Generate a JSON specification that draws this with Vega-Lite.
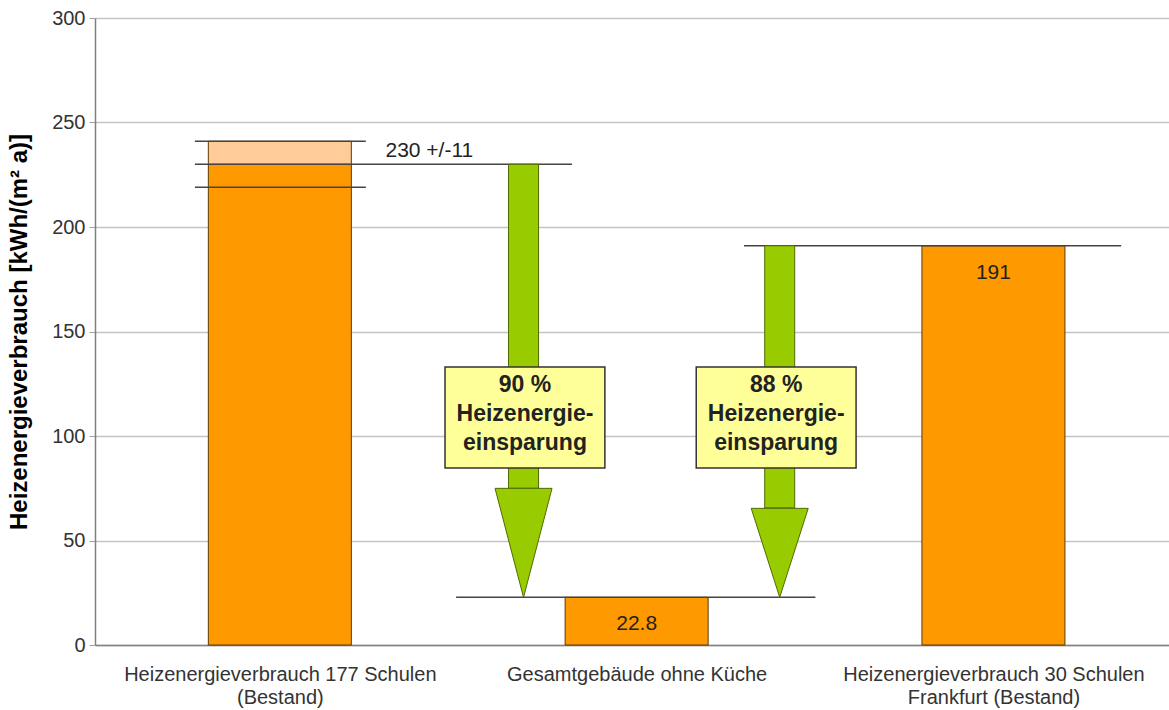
{
  "$schema": "https://vega.github.io/schema/vega-lite/v6.json",
  "autosize": {"type": "none"},
  "width": 1074,
  "height": 627,
  "padding": {"left": 95, "top": 18, "right": 0, "bottom": 65},
  "background": "white",
  "config": {
    "font": "Liberation Sans",
    "view": {"stroke": null}
  },
  "datasets": {
    "bars": [
      {"cat": "Heizenergieverbrauch 177 Schulen (Bestand)", "pos": 0.5, "value": 230},
      {"cat": "Gesamtgebäude ohne Küche", "pos": 1.5, "value": 22.8},
      {"cat": "Heizenergieverbrauch 30 Schulen Frankfurt (Bestand)", "pos": 2.5, "value": 191}
    ],
    "error": [{"pos": 0.5, "lo": 219, "hi": 241, "value": 230}],
    "refs": [
      {"from": 0.262, "to": 0.741, "y": 241},
      {"from": 0.262, "to": 0.741, "y": 219},
      {"from": 0.262, "to": 1.319, "y": 230},
      {"from": 0.994, "to": 2.001, "y": 22.8},
      {"from": 1.801, "to": 2.858, "y": 191}
    ],
    "arrows": [
      {"arrow": "90 %", "pos": 1.183, "from": 230, "headTop": 75, "to": 22.8},
      {"arrow": "88 %", "pos": 1.901, "from": 191, "headTop": 65.6, "to": 22.8}
    ],
    "boxes": [
      {"box": "90 %", "x1": 0.963, "x2": 1.411, "top": 133, "bottom": 84.7, "mid": 1.187, "ty": 124.4, "text": "90 %\nHeizenergie-\neinsparung"},
      {"box": "88 %", "x1": 1.667, "x2": 2.115, "top": 133, "bottom": 84.7, "mid": 1.891, "ty": 124.4, "text": "88 %\nHeizenergie-\neinsparung"}
    ],
    "notes": [{"pos": 0.796, "y": 230, "text": "230 +/-11"}]
  },
  "layer": [
    {
      "data": {"name": "bars"},
      "mark": {"type": "bar", "width": 143, "fill": "#FF9900", "stroke": "#5c3b00", "strokeWidth": 1},
      "encoding": {
        "x": {
          "field": "pos", "type": "quantitative",
          "scale": {"domain": [-0.004, 2.978], "nice": false, "zero": false},
          "axis": {
            "title": null,
            "values": [0.5, 1.5, 2.5],
            "labelExpr": "datum.value < 1 ? ['Heizenergieverbrauch 177 Schulen', '(Bestand)'] : datum.value < 2 ? ['Gesamtgebäude ohne Küche'] : ['Heizenergieverbrauch 30 Schulen', 'Frankfurt (Bestand)']",
            "labelFontSize": 20,
            "labelColor": "#333333",
            "labelLineHeight": 23,
            "labelPadding": 19,
            "labelLimit": 600,
            "ticks": false,
            "grid": false,
            "domainColor": "#808080",
            "domainWidth": 1.5,
            "labelFlush": false,
            "labelOverlap": false
          }
        },
        "y": {
          "field": "value", "type": "quantitative",
          "scale": {"domain": [0, 300], "nice": false},
          "axis": {
            "title": "Heizenergieverbrauch [kWh/(m² a)]",
            "titleFontSize": 24,
            "titleFontWeight": "bold",
            "titleColor": "#000000",
            "titlePadding": 20,
            "values": [0, 50, 100, 150, 200, 250, 300],
            "labelFontSize": 20,
            "labelColor": "#333333",
            "labelPadding": 4,
            "tickSize": 6,
            "tickColor": "#a0a0a0",
            "grid": true,
            "gridColor": "#c4c4c4",
            "gridWidth": 1.5,
            "domainColor": "#808080",
            "domainWidth": 1.5
          }
        }
      }
    },
    {
      "data": {"name": "error"},
      "mark": {"type": "bar", "width": 143, "fill": "#FFCC99", "stroke": "#5c3b00", "strokeWidth": 1},
      "encoding": {
        "x": {"field": "pos", "type": "quantitative"},
        "y": {"field": "value", "type": "quantitative"},
        "y2": {"field": "hi"}
      }
    },
    {
      "data": {"name": "refs"},
      "mark": {"type": "rule", "color": "#444444", "strokeWidth": 1.5},
      "encoding": {
        "x": {"field": "from", "type": "quantitative"},
        "x2": {"field": "to"},
        "y": {"field": "y", "type": "quantitative"}
      }
    },
    {
      "data": {"name": "arrows"},
      "mark": {"type": "bar", "width": 30, "fill": "#99CC00", "stroke": "#4f6b00", "strokeWidth": 1},
      "encoding": {
        "x": {"field": "pos", "type": "quantitative"},
        "y": {"field": "from", "type": "quantitative"},
        "y2": {"field": "headTop"}
      }
    },
    {
      "data": {"name": "arrows"},
      "mark": {"type": "point", "filled": true, "size": 10000, "fill": "#99CC00", "stroke": "#4f6b00", "strokeWidth": 1, "opacity": 1},
      "encoding": {
        "x": {"field": "pos", "type": "quantitative"},
        "y": {"field": "to", "type": "quantitative"},
        "shape": {
          "field": "arrow", "type": "nominal", "legend": null,
          "scale": {"domain": ["90 %", "88 %"], "range": ["M-0.57,-2.18L0.57,-2.18L0,0Z", "M-0.57,-1.78L0.57,-1.78L0,0Z"]}
        }
      }
    },
    {
      "data": {"name": "boxes"},
      "mark": {"type": "rect", "fill": "#FFFF99", "stroke": "#333333", "strokeWidth": 1.5},
      "encoding": {
        "x": {"field": "x1", "type": "quantitative"},
        "x2": {"field": "x2"},
        "y": {"field": "top", "type": "quantitative"},
        "y2": {"field": "bottom"}
      }
    },
    {
      "data": {"name": "boxes"},
      "mark": {"type": "text", "fontSize": 23, "fontWeight": "bold", "lineBreak": "\n", "lineHeight": 29, "align": "center", "baseline": "middle", "color": "#222222"},
      "encoding": {
        "x": {"field": "mid", "type": "quantitative"},
        "y": {"field": "ty", "type": "quantitative"},
        "text": {"field": "text"}
      }
    },
    {
      "data": {"name": "notes"},
      "mark": {"type": "text", "fontSize": 21, "align": "left", "baseline": "bottom", "dy": -3, "color": "#222222"},
      "encoding": {
        "x": {"field": "pos", "type": "quantitative"},
        "y": {"field": "y", "type": "quantitative"},
        "text": {"field": "text"}
      }
    },
    {
      "data": {"name": "bars"},
      "transform": [{"filter": "datum.value < 200"}],
      "mark": {"type": "text", "fontSize": 21, "align": "center", "baseline": "middle", "dy": 27, "color": "#222222"},
      "encoding": {
        "x": {"field": "pos", "type": "quantitative"},
        "y": {"field": "value", "type": "quantitative"},
        "text": {"field": "value", "type": "quantitative", "format": ".3~"}
      }
    }
  ]
}
